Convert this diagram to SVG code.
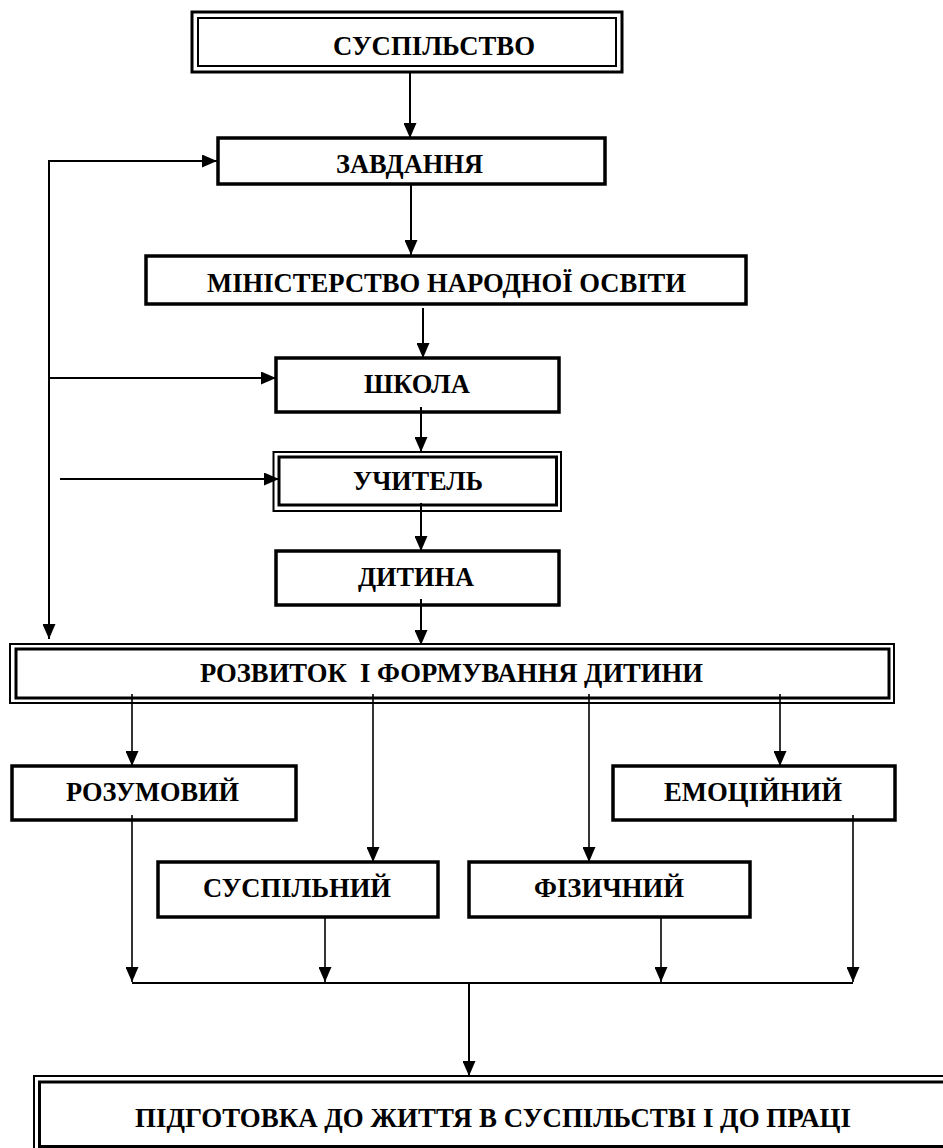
<svg xmlns="http://www.w3.org/2000/svg" width="943" height="1148" viewBox="0 0 943 1148">
<style>
  .t{font-family:"Liberation Serif","Times New Roman",serif;font-weight:bold;font-size:27px;fill:#000;text-anchor:middle;white-space:pre}
  .b{fill:none;stroke:#000;stroke-width:3.5}
  .o{fill:none;stroke:#000;stroke-width:3}
  .i{fill:none;stroke:#000;stroke-width:2}
  .c{fill:none;stroke:#000;stroke-width:2}
  .c2{fill:none;stroke:#000;stroke-width:1.6}
</style>
<defs>
  <marker id="ah" markerUnits="userSpaceOnUse" markerWidth="15" markerHeight="13" refX="15" refY="6.5" orient="auto">
    <path d="M0,0 L15,6.5 L0,13 z" fill="#000"/>
  </marker>
</defs>
<rect width="943" height="1148" fill="#fff"/>

<g id="connectors">
  <line class="c" x1="410" y1="72" x2="410" y2="138" marker-end="url(#ah)"/>
  <line class="c" x1="411" y1="184" x2="411" y2="255" marker-end="url(#ah)"/>
  <line class="c" x1="423" y1="308" x2="423" y2="358" marker-end="url(#ah)"/>
  <line class="c" x1="421" y1="407" x2="421" y2="452" marker-end="url(#ah)"/>
  <line class="c" x1="421" y1="503" x2="421" y2="551" marker-end="url(#ah)"/>
  <line class="c" x1="421" y1="599" x2="421" y2="645" marker-end="url(#ah)"/>
  <polyline class="c" points="49,638 49,161 217,161" marker-end="url(#ah)"/>
  <line class="c" x1="49" y1="620" x2="49" y2="639" marker-end="url(#ah)"/>
  <line class="c" x1="49" y1="378" x2="276" y2="378" marker-end="url(#ah)"/>
  <line class="c" x1="60" y1="479" x2="279" y2="479" marker-end="url(#ah)"/>
  <line class="c2" x1="132" y1="694" x2="132" y2="766" marker-end="url(#ah)"/>
  <line class="c2" x1="373" y1="694" x2="373" y2="862" marker-end="url(#ah)"/>
  <line class="c2" x1="589" y1="694" x2="589" y2="862" marker-end="url(#ah)"/>
  <line class="c2" x1="780" y1="694" x2="780" y2="766" marker-end="url(#ah)"/>
  <line class="c2" x1="132" y1="815" x2="132" y2="982" marker-end="url(#ah)"/>
  <line class="c2" x1="325" y1="918" x2="325" y2="982" marker-end="url(#ah)"/>
  <line class="c2" x1="661" y1="918" x2="661" y2="982" marker-end="url(#ah)"/>
  <line class="c2" x1="853" y1="815" x2="853" y2="982" marker-end="url(#ah)"/>
  <line class="c" x1="132" y1="983" x2="853" y2="983"/>
  <line class="c" x1="469" y1="983" x2="469" y2="1076" marker-end="url(#ah)"/>
</g>

<g id="n-suspilstvo">
  <rect class="o" x="192" y="12" width="430" height="60"/>
  <rect class="i" x="198" y="18" width="418" height="48"/>
  <text class="t" x="434" y="55" textLength="202" lengthAdjust="spacingAndGlyphs">СУСПІЛЬСТВО</text>
</g>
<g id="n-zavdannia">
  <rect class="b" x="218" y="138" width="387" height="46"/>
  <text class="t" x="409.5" y="173" textLength="147" lengthAdjust="spacingAndGlyphs">ЗАВДАННЯ</text>
</g>
<g id="n-ministerstvo">
  <rect class="b" x="146" y="256" width="600" height="48"/>
  <text class="t" x="446.5" y="292" textLength="479" lengthAdjust="spacingAndGlyphs">МІНІСТЕРСТВО НАРОДНОЇ ОСВІТИ</text>
</g>
<g id="n-shkola">
  <rect class="b" x="276" y="358" width="283" height="54"/>
  <text class="t" x="417" y="393" textLength="106" lengthAdjust="spacingAndGlyphs">ШКОЛА</text>
</g>
<g id="n-uchytel">
  <rect class="i" x="273.5" y="452" width="287.5" height="59"/>
  <rect class="o" x="279" y="457" width="277.5" height="48"/>
  <text class="t" x="418" y="490" textLength="130" lengthAdjust="spacingAndGlyphs">УЧИТЕЛЬ</text>
</g>
<g id="n-dytyna">
  <rect class="b" x="276" y="551" width="283" height="54"/>
  <text class="t" x="416" y="586" textLength="116" lengthAdjust="spacingAndGlyphs">ДИТИНА</text>
</g>
<g id="n-rozvytok">
  <rect class="i" x="10" y="644" width="884" height="59"/>
  <rect class="o" x="16" y="649" width="873" height="49"/>
  <text class="t" x="451.5" y="682" textLength="503" lengthAdjust="spacingAndGlyphs">РОЗВИТОК  І ФОРМУВАННЯ ДИТИНИ</text>
</g>
<g id="n-rozumovyi">
  <rect class="b" x="12" y="766" width="284" height="54"/>
  <text class="t" x="152.5" y="801" textLength="173" lengthAdjust="spacingAndGlyphs">РОЗУМОВИЙ</text>
</g>
<g id="n-emotsiinyi">
  <rect class="b" x="613" y="766" width="282" height="54"/>
  <text class="t" x="753" y="801" textLength="178" lengthAdjust="spacingAndGlyphs">ЕМОЦІЙНИЙ</text>
</g>
<g id="n-suspilnyi">
  <rect class="b" x="158" y="862" width="280" height="55"/>
  <text class="t" x="297" y="897" textLength="188" lengthAdjust="spacingAndGlyphs">СУСПІЛЬНИЙ</text>
</g>
<g id="n-fizychnyi">
  <rect class="b" x="469" y="862" width="281" height="55"/>
  <text class="t" x="609" y="897" textLength="150" lengthAdjust="spacingAndGlyphs">ФІЗИЧНИЙ</text>
</g>
<g id="n-pidhotovka">
  <rect class="i" x="34" y="1076" width="920" height="80"/>
  <rect class="o" x="39.5" y="1082" width="910" height="64.5"/>
  <text class="t" x="493" y="1127" textLength="716" lengthAdjust="spacingAndGlyphs">ПІДГОТОВКА ДО ЖИТТЯ В СУСПІЛЬСТВІ І ДО ПРАЦІ</text>
</g>
</svg>
